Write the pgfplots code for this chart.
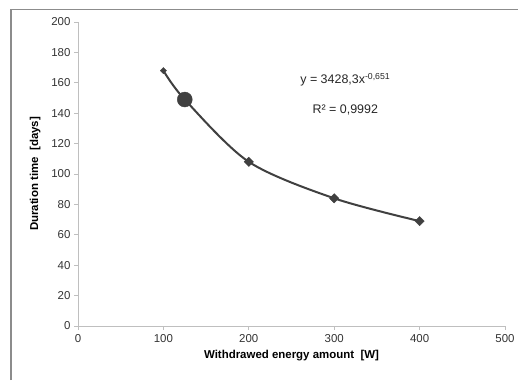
\documentclass[border=0pt]{standalone}
\usepackage{pgfplots}
\pgfplotsset{compat=1.18}
\usepackage{fontspec}
\setmainfont{Liberation Sans}
\definecolor{dk}{HTML}{404040}
\definecolor{ax}{HTML}{BFBFBF}
\begin{document}
\begin{tikzpicture}[x=1bp,y=1bp]
\useasboundingbox (0,0) rectangle (518,380);
\draw[color=gray!90, line width=1.5bp] (11,0) -- (11,370.5) -- (518,370.5);
\begin{axis}[
  at={(78bp,54bp)}, anchor=south west,
  scale only axis, width=427bp, height=304bp,
  xmin=0, xmax=500, ymin=0, ymax=200,
  xtick={0,100,...,500}, ytick={0,20,...,200},
  axis x line=bottom, axis y line=left,
  axis line style={color=ax, line width=0.8bp, -},
  tick style={color=ax, line width=0.8bp},
  tick align=outside, major tick length=4bp,
  ticklabel style={font=\fontsize{11.5}{13}\selectfont, text=black!80},
  xticklabel style={yshift=-1bp},
  /pgf/number format/assume math mode=true,
  xlabel={\textbf{Withdrawed energy amount\ \ [W]}},
  ylabel={\textbf{Duration time\ \ [days]}},
  label style={font=\fontsize{11.5}{13}\selectfont, text=black},
  xlabel style={yshift=-1bp},
  ylabel style={yshift=4bp},
  clip=false,
]
\addplot[color=dk, line width=2bp, smooth, tension=0.5] coordinates {
  (100,168) (125,149) (200,108) (300,84) (400,69)
};
\addplot[only marks, mark=square*, mark options={rotate=45}, mark size=2.2bp, color=dk, fill=dk] coordinates {(100,168)};
\addplot[only marks, mark=square*, mark options={rotate=45}, mark size=3.3bp, color=dk, fill=dk] coordinates {(200,108) (300,84) (400,69)};
\addplot[only marks, mark=*, mark size=7.5bp, color=dk, fill=dk] coordinates {(125,149)};
\node[font=\fontsize{12.5}{14}\selectfont, text=black!85] at (axis cs:313,162) {y = 3428,3x\textsuperscript{-0,651}};
\node[font=\fontsize{12.5}{14}\selectfont, text=black!85] at (axis cs:313,142) {R² = 0,9992};
\end{axis}
\end{tikzpicture}
\end{document}
